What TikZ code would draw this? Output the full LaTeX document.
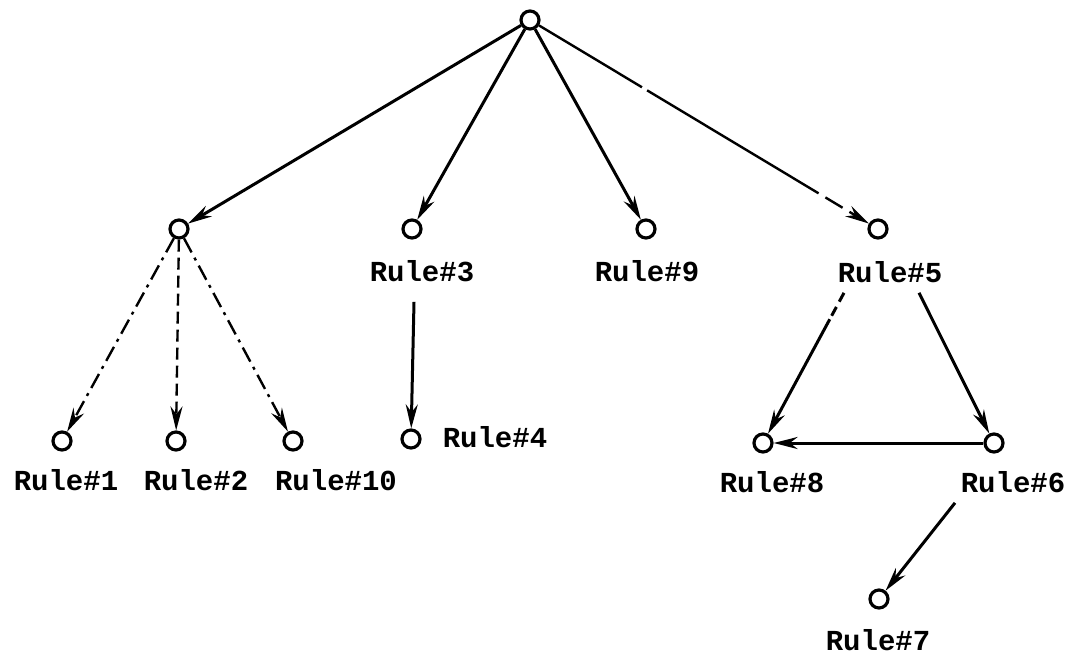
\documentclass[tikz,border=0pt]{standalone}
\usepackage{fontspec}
\setmonofont{Liberation Mono}
\usetikzlibrary{arrows.meta}
\begin{document}
\begin{tikzpicture}[x=1pt,y=-1pt,
  dot/.style={circle,draw,line width=3.2pt,minimum size=18pt,inner sep=0pt},
  lbl/.style={font=\fontsize{29}{34}\selectfont\ttfamily\bfseries,inner sep=0pt},
  edge/.style={line width=3pt,-{Stealth[length=24pt,width=12pt]}},
  faded/.style={edge,line width=2.4pt,dash pattern=on 16pt off 6pt on 3pt off 6pt}]
\useasboundingbox (0,0) rectangle (1079,662);
% nodes
\node[dot] (r) at (530,20) {};
\node[dot] (a) at (179,229) {};
\node[dot] (c3) at (412,229) {};
\node[lbl] (l3) at (422,271) {Rule\#3};
\node[dot] (c9) at (646,229) {};
\node[lbl] (l9) at (647,271) {Rule\#9};
\node[dot] (c5) at (878,229) {};
\node[lbl] (l5) at (890,272) {Rule\#5};
\node[dot] (c1) at (62,441) {};
\node[lbl] (l1) at (66,480) {Rule\#1};
\node[dot] (c2) at (176,441) {};
\node[lbl] (l2) at (196,480) {Rule\#2};
\node[dot] (c10) at (293,441) {};
\node[lbl] (l10) at (336,480) {Rule\#10};
\node[dot] (c4) at (411,439) {};
\node[lbl] (l4) at (495,437) {Rule\#4};
\node[dot] (c8) at (763,443) {};
\node[lbl] (l8) at (772,482) {Rule\#8};
\node[dot] (c6) at (994,443) {};
\node[lbl] (l6) at (1013,482) {Rule\#6};
\node[dot] (c7) at (879,599) {};
\node[lbl] (l7) at (878,640) {Rule\#7};
% edges
\draw[edge] (r) -- (a);
\draw[edge] (r) -- (c3);
\draw[edge] (r) -- (c9);
\draw[faded,dash pattern=on 120pt off 6pt on 200pt off 8pt on 20pt off 8pt on 10pt off 8pt] (r) -- (c5);
\draw[faded] (a) -- (c1);
\draw[faded,dash pattern=on 12pt off 6pt] (a) -- (c2);
\draw[faded] (a) -- (c10);
\draw[edge] ([xshift=-8pt,yshift=-20pt]l3.south) -- (c4);
\draw[edge,dash pattern=on 10pt off 6pt on 10pt off 4pt on 200pt] ([xshift=-46pt,yshift=-10pt]l5.south) -- (c8);
\draw[edge] ([xshift=29pt,yshift=-10pt]l5.south) -- (c6);
\draw[edge] (c6) -- (c8);
\draw[edge] ([xshift=-58pt,yshift=-10pt]l6.south) -- (c7);
\end{tikzpicture}
\end{document}
